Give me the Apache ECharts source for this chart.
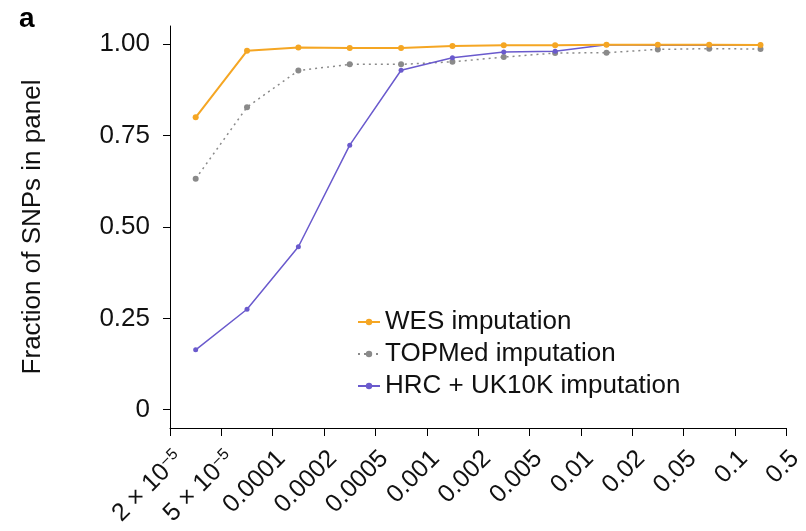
<!DOCTYPE html>
<html><head><meta charset="utf-8">
<script src="https://cdn.jsdelivr.net/npm/echarts@6/dist/echarts.min.js"></script>
<style>html,body{margin:0;padding:0;background:#fff}#c{width:806px;height:531px}</style>
</head><body><div id="c"></div>
<script>
// x-axis tick labels (bin boundaries, minor allele frequency)
const tickLabels = ['2 × 10{sup|−5}', '5 × 10{sup|−5}', '0.0001', '0.0002', '0.0005', '0.001', '0.002', '0.005', '0.01', '0.02', '0.05', '0.1', '0.5'];
// frequency bins (between consecutive boundaries)
const bins = ['2e-5–5e-5', '5e-5–1e-4', '1e-4–2e-4', '2e-4–5e-4', '5e-4–0.001', '0.001–0.002', '0.002–0.005', '0.005–0.01', '0.01–0.02', '0.02–0.05', '0.05–0.1', '0.1–0.5'];
// series values
const wes    = [0.800, 0.982, 0.991, 0.990, 0.990, 0.995, 0.997, 0.997, 0.999, 0.999, 0.999, 0.998];
const topmed = [0.632, 0.828, 0.928, 0.945, 0.945, 0.952, 0.965, 0.976, 0.977, 0.986, 0.988, 0.987];
const hrc    = [0.164, 0.275, 0.446, 0.724, 0.929, 0.963, 0.979, 0.981, 0.999, 0.997, 0.997, 0.998];
// y ticks
const yTicks = [0, 0.25, 0.5, 0.75, 1];
const yTickLabels = ['0', '0.25', '0.50', '0.75', '1.00'];
const seriesNames = ['WES imputation', 'TOPMed imputation', 'HRC + UK10K imputation'];

const F = "'Liberation Sans', Arial, Helvetica, sans-serif";
const chart = echarts.init(document.getElementById('c'));
chart.setOption({
  animation: false,
  backgroundColor: '#fff',
  title: { text: 'a', left: 14, top: 0, textStyle: { fontFamily: F, fontWeight: 'bold', fontSize: 28, color: '#000' } },
  grid: { left: 170, right: 13, top: 26, bottom: 103 },
  xAxis: [
    {
      type: 'category', data: tickLabels, boundaryGap: false,
      axisLine: { onZero: false, lineStyle: { color: '#000', width: 1 } },
      axisTick: { length: 8, lineStyle: { color: '#000' } },
      axisLabel: {
        interval: 0, rotate: 45, margin: 18, verticalAlign: 'top',
        fontSize: 25, color: '#111', fontFamily: F,
        rich: { sup: { fontSize: 16, fontFamily: F, color: '#111', verticalAlign: 'top', padding: [0, 0, 10, 0] } }
      },
      splitLine: { show: false }
    },
    { type: 'category', data: bins, boundaryGap: true, show: false }
  ],
  yAxis: {
    type: 'value', min: -0.05, max: 1.05,
    axisLine: { show: true, lineStyle: { color: '#000', width: 1 } },
    axisTick: { show: true, length: 7, customValues: yTicks, lineStyle: { color: '#000' } },
    axisLabel: { customValues: yTicks, formatter: v => yTickLabels[yTicks.indexOf(v)], margin: 20, fontSize: 26, color: '#111', fontFamily: F },
    splitLine: { show: false },
    name: 'Fraction of SNPs in panel', nameLocation: 'middle', nameGap: 124,
    nameTextStyle: { fontSize: 26, color: '#111', fontFamily: F }
  },
  legend: {
    orient: 'vertical', left: 352, top: 304, itemWidth: 22, itemHeight: 8, itemGap: 6,
    textStyle: { fontSize: 26, color: '#111', fontFamily: F },
    data: seriesNames
  },
  series: [
    { name: seriesNames[0], type: 'line', xAxisIndex: 1, data: wes, z: 4, color: '#F5A623',
      symbol: 'circle', symbolSize: 6, lineStyle: { width: 2 } },
    { name: seriesNames[1], type: 'line', xAxisIndex: 1, data: topmed, z: 2, color: '#8a8a8a',
      symbol: 'circle', symbolSize: 6, lineStyle: { width: 1.5, type: [2, 4] } },
    { name: seriesNames[2], type: 'line', xAxisIndex: 1, data: hrc, z: 3, color: '#6a5acd',
      symbol: 'circle', symbolSize: 5, lineStyle: { width: 1.5 } }
  ]
});
</script></body></html>
